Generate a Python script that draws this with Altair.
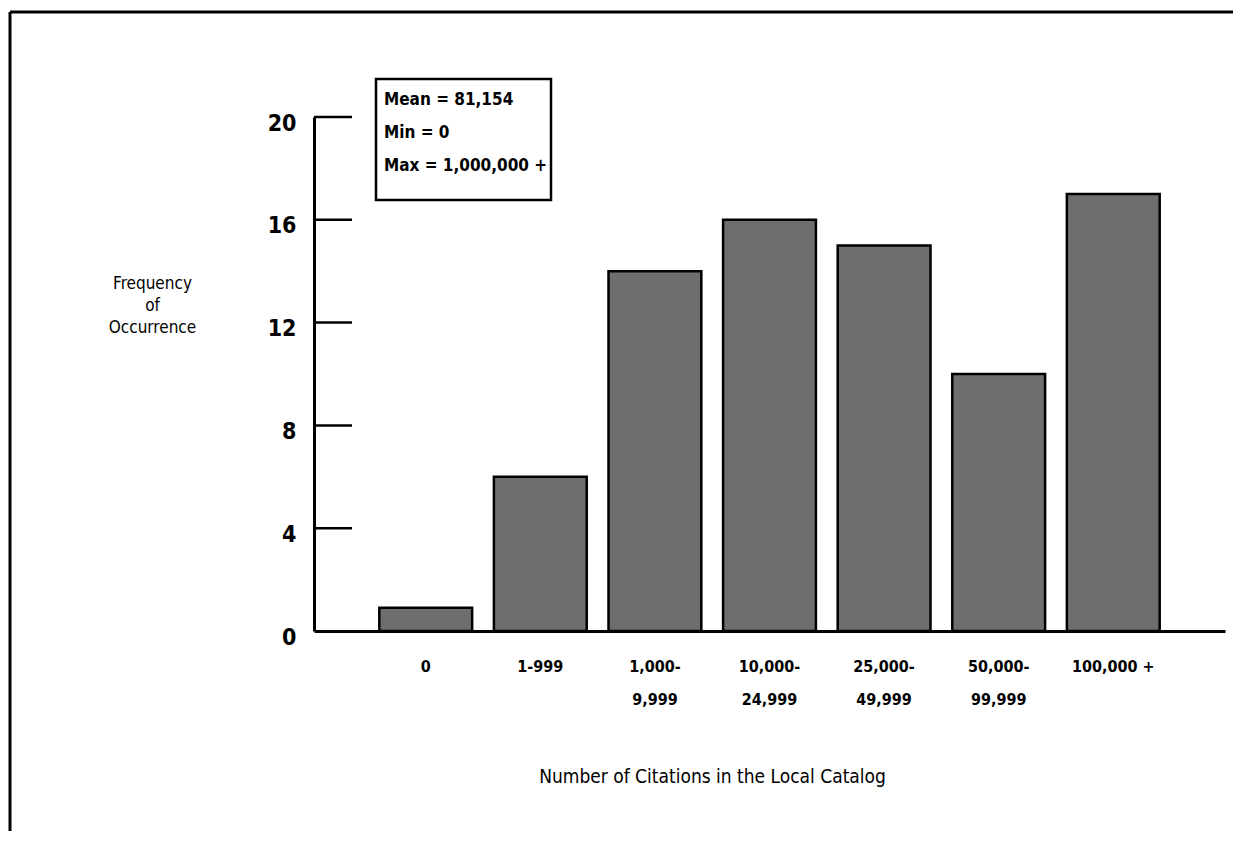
import altair as alt
import pandas as pd

categories = ["0", "1-999", "1,000-9,999", "10,000-24,999", "25,000-49,999",
              "50,000-99,999", "100,000 +"]
frequencies = [0.9, 6, 14, 16, 15, 10, 17]
y_ticks = [0, 4, 8, 12, 16, 20]
stats_lines = ["Mean = 81,154", "Min = 0", "Max = 1,000,000 +"]
y_title = ["Frequency", "of", "Occurrence"]
x_title = "Number of Citations in the Local Catalog"

FONT = "DejaVu Sans Condensed, Open Sans, sans-serif"

df = pd.DataFrame({"range": categories, "freq": frequencies})
ticks_df = pd.DataFrame({"freq": y_ticks[1:]})
one = pd.DataFrame({"k": [0]})

yscale = alt.Scale(domain=[0, 20], nice=False, zero=True)
yaxis = alt.Axis(
    title=y_title, values=y_ticks, ticks=False, grid=False,
    domainColor="black", domainWidth=3,
    labelFont=FONT, labelFontSize=23, labelFontWeight="bold",
    labelColor="black", labelPadding=18, labelOffset=6,
    titleFont=FONT, titleFontSize=17, titleFontWeight="normal",
    titleColor="black", titleAngle=0, titleAlign="center",
    titleBaseline="top", titleX=-162, titleY=158,
    titleLineHeight=22,
)

bars = alt.Chart(df).mark_bar(
    fill="#6e6e6e", stroke="black", strokeWidth=2.5
).encode(
    x=alt.X("range:N", sort=categories,
            scale=alt.Scale(paddingInner=0.19, paddingOuter=0.57),
            axis=alt.Axis(
                title=x_title, labelAngle=0, ticks=False,
                domainColor="black", domainWidth=3,
                labelFont=FONT, labelFontSize=16, labelFontWeight="bold",
                labelColor="black", labelPadding=27, labelLineHeight=33,
                labelBaseline="top",
                labelExpr="indexof(datum.label, ',') >= 0 && indexof(datum.label, '-') > 0 ? [slice(datum.label, 0, indexof(datum.label, '-') + 1), slice(datum.label, indexof(datum.label, '-') + 1)] : datum.label",
                titleFont=FONT, titleFontSize=19, titleFontWeight="normal",
                titleColor="black", titleX=398, titleY=136,
                titleBaseline="top", titleAlign="center",
            )),
    y=alt.Y("freq:Q", scale=yscale, axis=yaxis),
)

tick_rules = alt.Chart(ticks_df).mark_rule(color="black", strokeWidth=2.5).encode(
    y=alt.Y("freq:Q", scale=yscale, axis=yaxis),
    x=alt.value(0), x2=alt.value(38),
)

box = alt.Chart(one).mark_rect(fill="white", stroke="black", strokeWidth=2.5).encode(
    x=alt.value(62), x2=alt.value(237), y=alt.value(-38), y2=alt.value(83),
)

stats = alt.Chart(one).mark_text(
    text=stats_lines, font=FONT, fontSize=17, fontWeight="bold", color="black",
    align="left", baseline="middle", lineHeight=33,
).encode(x=alt.value(70), y=alt.value(-17))

frame_top = alt.Chart(one).mark_rule(color="black", strokeWidth=3).encode(
    x=alt.value(-304), x2=alt.value(925), y=alt.value(-105),
)
frame_left = alt.Chart(one).mark_rule(color="black", strokeWidth=3).encode(
    x=alt.value(-304), y=alt.value(-105), y2=alt.value(720),
)

chart = alt.layer(frame_top, frame_left, bars, tick_rules, box, stats).properties(
    width=911, height=514,
    autosize=alt.AutoSizeParams(type="none"),
    padding={"left": 306, "top": 109, "right": 8, "bottom": 200},
    background="white",
).configure_view(stroke=None)

chart.save("out.html", embed_options={"renderer": "svg", "actions": False})
